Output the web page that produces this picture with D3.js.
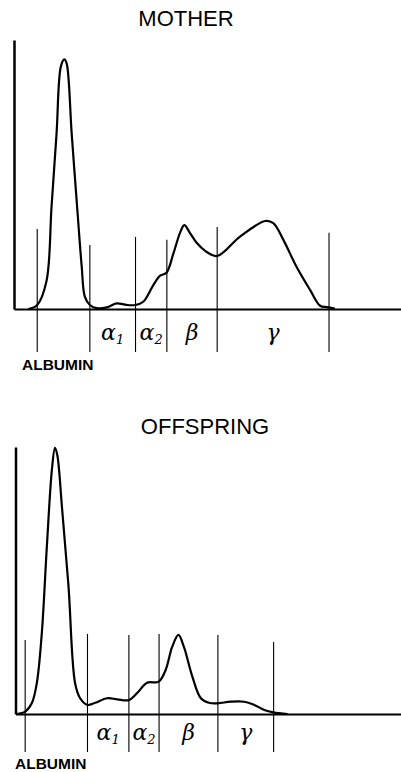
<!DOCTYPE html>
<html>
<head>
<meta charset="utf-8">
<script src="https://cdn.jsdelivr.net/npm/d3@7"></script>
<style>
  body { margin: 0; background: white; }
  svg { display: block; }
</style>
</head>
<body>
<div id="chart"></div>
<script>
// electrophoresis traces, x = migration (0-100), y = relative density (0-100)
var motherX = [3.7, 6.0, 8.4, 9.7, 11.0, 12.1, 13.0, 13.6, 14.9, 16.5, 17.5, 18.3, 19.6, 21.4, 24.0, 26.5, 29.1, 31.4, 33.4, 36.0, 37.7, 39.4, 41.2, 42.9, 44.0, 45.5, 47.2, 49.4, 52.5, 58.4, 64.9, 67.0, 69.6, 73.0, 76.5, 79.1, 80.8, 82.9];
var motherY = [0, 1.5, 10.4, 38.0, 65.3, 90.1, 92.8, 91.3, 65.3, 34.3, 15.7, 4.6, 1.5, 0.3, 0.6, 2.1, 1.5, 1.5, 2.7, 8.9, 12.3, 13.5, 20.7, 28.3, 31.2, 28.2, 24.6, 21.6, 19.7, 26.9, 32.7, 31.9, 25.7, 15.7, 7.1, 1.2, 0.7, 0.2];

var offspringX = [0.3, 2.5, 4.2, 5.5, 6.8, 8.1, 9.4, 10.2, 10.8, 12.0, 13.7, 15.4, 16.7, 18.6, 20.6, 23.7, 26.3, 29.3, 31.4, 34.0, 37.0, 38.8, 40.5, 42.1, 43.5, 45.7, 47.9, 50.0, 52.2, 55.6, 59.1, 61.7, 64.3, 66.6, 70.3];
var offspringY = [0, 0.9, 4.0, 11.5, 30.3, 62.7, 91.4, 99.7, 97.0, 77.6, 47.7, 11.5, 5.9, 3.4, 4.2, 5.9, 5.5, 5.2, 7.8, 11.7, 12.1, 16.5, 25.2, 29.6, 25.2, 14.0, 5.9, 4.2, 4.0, 4.6, 4.6, 3.4, 1.5, 0.6, 0];

// fraction boundaries (x) and the height each divider line reaches (y)
var motherBounds = [6.0, 19.6, 31.4, 39.5, 52.5, 81.4];
var motherBoundTops = [29.7, 23.8, 26.8, 25.7, 30.5, 28.3];
var offspringBounds = [2.5, 18.6, 29.3, 37.1, 52.3, 66.7];
var offspringBoundTops = [27.7, 30.0, 29.6, 30.0, 29.6, 27.0];

var fractions = [["α", "1"], ["α", "2"], ["β", ""], ["γ", ""]];
var titles = ["MOTHER", "OFFSPRING"];
var albuminLabel = "ALBUMIN";

var W = 401, H = 772;

var svg = d3.select("#chart")
  .append("svg")
  .attr("width", W)
  .attr("height", H);

var panels = [
  { title: titles[0], xs: motherX, ys: motherY, bounds: motherBounds, tops: motherBoundTops,
    left: 14, base: 309, top: 40, titleX: 186, titleY: 26, ext: 43, greekY: 340, albX: 22, albY: 370 },
  { title: titles[1], xs: offspringX, ys: offspringY, bounds: offspringBounds, tops: offspringBoundTops,
    left: 15.5, base: 714, top: 447, titleX: 205, titleY: 434, ext: 38, greekY: 740, albX: 15, albY: 769 }
];

panels.forEach(function (p) {
  var x = d3.scaleLinear().domain([0, 100]).range([p.left, p.left + 387]);
  var y = d3.scaleLinear().domain([0, 100]).range([p.base, p.top]);

  var g = svg.append("g");

  g.append("text")
    .attr("x", p.titleX)
    .attr("y", p.titleY)
    .attr("text-anchor", "middle")
    .style("font-family", "Liberation Sans, Arial, sans-serif")
    .style("font-size", "22px")
    .text(p.title);

  // axes, no ticks
  g.append("g")
    .attr("transform", "translate(0," + p.base + ")")
    .call(d3.axisBottom(x).ticks(0).tickSizeOuter(0))
    .select(".domain").attr("stroke", "black").attr("stroke-width", 2);
  g.append("g")
    .attr("transform", "translate(" + p.left + ",0)")
    .call(d3.axisLeft(y).ticks(0).tickSizeOuter(0))
    .select(".domain").attr("stroke", "black").attr("stroke-width", 2.5);

  // fraction dividers
  g.selectAll(".div")
    .data(p.bounds)
    .enter()
    .append("line")
    .attr("x1", function (d) { return x(d); })
    .attr("x2", function (d) { return x(d); })
    .attr("y1", function (d, i) { return y(p.tops[i]); })
    .attr("y2", p.base + p.ext)
    .attr("stroke", "black")
    .attr("stroke-width", 1.1);

  // trace
  var pts = p.xs.map(function (d, i) { return [d, p.ys[i]]; });
  var line = d3.line()
    .x(function (d) { return x(d[0]); })
    .y(function (d) { return y(d[1]); })
    .curve(d3.curveCatmullRom.alpha(0.5));
  g.append("path")
    .datum(pts)
    .attr("d", line)
    .attr("fill", "none")
    .attr("stroke", "black")
    .attr("stroke-width", 2.2)
    .attr("stroke-linejoin", "round");

  // greek labels centred between dividers
  fractions.forEach(function (f, i) {
    var cx = (x(p.bounds[i + 1]) + x(p.bounds[i + 2])) / 2;
    var t = g.append("text")
      .attr("x", cx)
      .attr("y", p.greekY)
      .attr("text-anchor", "middle")
      .style("font-family", "DejaVu Serif, serif")
      .style("font-style", "italic")
      .style("font-size", "22px");
    t.append("tspan").text(f[0]);
    if (f[1]) {
      t.append("tspan")
        .attr("dy", 4)
        .style("font-size", "13px")
        .text(f[1]);
    }
  });

  g.append("text")
    .attr("x", p.albX)
    .attr("y", p.albY)
    .style("font-family", "Liberation Sans, Arial, sans-serif")
    .style("font-weight", "bold")
    .style("font-size", "15.5px")
    .text(albuminLabel);
});
</script>
</body>
</html>
